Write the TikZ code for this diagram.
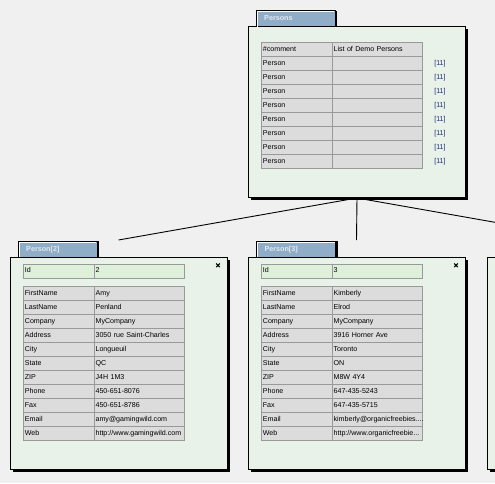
\documentclass[tikz,border=0pt]{standalone}
\usepackage{fontspec}
\setmainfont{Liberation Sans}
\usepackage{tikz}
\usetikzlibrary{shapes.misc, positioning}
\definecolor{canvas}{HTML}{F0F0F0}
\definecolor{panelgreen}{HTML}{E8F2E8}
\definecolor{tabblue}{HTML}{8FADC6}
\definecolor{tabtext}{HTML}{E2E9F0}
\definecolor{cellgray}{HTML}{DCDCDC}
\definecolor{cellline}{HTML}{999999}
\definecolor{idgreen}{HTML}{DFF0DA}
\definecolor{refblue}{HTML}{1C2A78}
\tikzset{
  panel/.style={draw=black, line width=1pt, fill=panelgreen, anchor=north west, inner sep=0pt,
    minimum width=217pt, minimum height=212.3pt,
    preaction={fill=black, transform canvas={shift={(2.5pt,-2.5pt)}}}},
  tab/.style={fill=tabblue, anchor=south west, inner xsep=8pt, inner ysep=0pt,
    minimum height=15.8pt, text width=63pt, align=left, text=tabtext,
    text height=5.2pt, text depth=1.4pt, font=\bfseries\fontsize{7.2}{8}\selectfont,
    preaction={fill=black, transform canvas={shift={(2pt,0pt)}}}},
  tabedge/.style={draw=black, line width=1pt},
  tablight/.style={draw=white, line width=0.8pt},
  cell/.style={draw=cellline, line width=0.8pt, fill=cellgray, anchor=north west,
    inner xsep=1.5pt, inner ysep=0pt, minimum height=14pt, align=left,
    text height=5.2pt, text depth=1.4pt, font=\fontsize{7.1}{8}\selectfont},
  keycell/.style={cell, text width=67.7pt},
  valcell/.style={cell, text width=87.3pt},
  idkey/.style={keycell, fill=idgreen},
  idval/.style={valcell, fill=idgreen},
  ref/.style={text=refblue, inner sep=0pt, font=\fontsize{7.1}{8}\selectfont},
  closebtn/.style={cross out, draw=black, line width=1pt, minimum size=2.6pt, inner sep=0pt},
  link/.style={draw=black, line width=0.9pt},
}

\begin{document}
\begin{tikzpicture}[x=1pt, y=-1pt]
  \fill[canvas] (0,0) rectangle (495,483);
  \useasboundingbox (0,0) rectangle (495,483);
  \clip (0,0) rectangle (495,483);

  % connectors
  \node[panel, minimum height=171pt] (persons) at (248,26) {};
  \coordinate (p2top) at (118.5,240);
  \coordinate (p3top) at (356.5,240);
  \coordinate (p4top) at (595.5,240);
  \draw[link] (persons.south) -- (p2top);
  \draw[link] (persons.south) -- (p3top);
  \draw[link] (persons.south) -- (p4top);

  % Persons list
  \node[tab] (personstab) at (256,26.6) {Persons};
  \draw[tabedge] (personstab.south west) |- (personstab.north east) -- (personstab.south east);
  \draw[tablight] ([xshift=1pt]personstab.south west) |- ([xshift=-1pt,yshift=-1pt]personstab.north east);
  \node[keycell] (pl-k0) at (261,42.3) {\#comment};
  \node[valcell] (pl-v0) at (331.7,42.3) {List of Demo Persons};
  \foreach \n in {1,...,8}{
    \node[keycell] (pl-k\n) at (261,{42.3+14*\n}) {Person};
    \node[valcell] (pl-v\n) at (331.7,{42.3+14*\n}) {};
    \node[ref] (pl-r\n) at (440,{49.3+14*\n}) {[11]};
  }

  % Person[2]
  \node[panel] (p2) at (10,256.7) {};
  \node[tab] (p2tab) at (18,257.3) {Person[2]};
  \draw[tabedge] (p2tab.south west) |- (p2tab.north east) -- (p2tab.south east);
  \draw[tablight] ([xshift=1pt]p2tab.south west) |- ([xshift=-1pt,yshift=-1pt]p2tab.north east);
  \node[closebtn] (p2close) at (218,265.3) {};
  \node[idkey] (p2-idk) at (23,263.5) {Id};
  \node[idval] (p2-idv) at (93.7,263.5) {2};
  \foreach \k/\v [count=\n] in {FirstName/Amy, LastName/Penland, Company/MyCompany,
      Address/3050 rue Saint-Charles, City/Longueuil, State/QC, ZIP/J4H 1M3,
      Phone/450-651-8076, Fax/450-651-8786, Email/{amy@gamingwild.com},
      Web/{http://www.gamingwild.com}}{
    \node[keycell] (p2-k\n) at (23,{272+14*\n}) {\k};
    \node[valcell] (p2-v\n) at (93.7,{272+14*\n}) {\v};
  }

  % Person[3]
  \node[panel] (p3) at (248,256.7) {};
  \node[tab] (p3tab) at (256.3,257.3) {Person[3]};
  \draw[tabedge] (p3tab.south west) |- (p3tab.north east) -- (p3tab.south east);
  \draw[tablight] ([xshift=1pt]p3tab.south west) |- ([xshift=-1pt,yshift=-1pt]p3tab.north east);
  \node[closebtn] (p3close) at (456,265.3) {};
  \node[idkey] (p3-idk) at (261,263.5) {Id};
  \node[idval] (p3-idv) at (331.7,263.5) {3};
  \foreach \k/\v [count=\n] in {FirstName/Kimberly, LastName/Elrod, Company/MyCompany,
      Address/3916 Horner Ave, City/Toronto, State/ON, ZIP/M8W 4Y4,
      Phone/647-435-5243, Fax/647-435-5715, Email/{kimberly@organicfreebies....},
      Web/{http://www.organicfreebie...}}{
    \node[keycell] (p3-k\n) at (261,{272+14*\n}) {\k};
    \node[valcell] (p3-v\n) at (331.7,{272+14*\n}) {\v};
  }

  % next card, cut off at the right
  \node[panel] (p4) at (487.3,256.7) {};
\end{tikzpicture}
\end{document}
